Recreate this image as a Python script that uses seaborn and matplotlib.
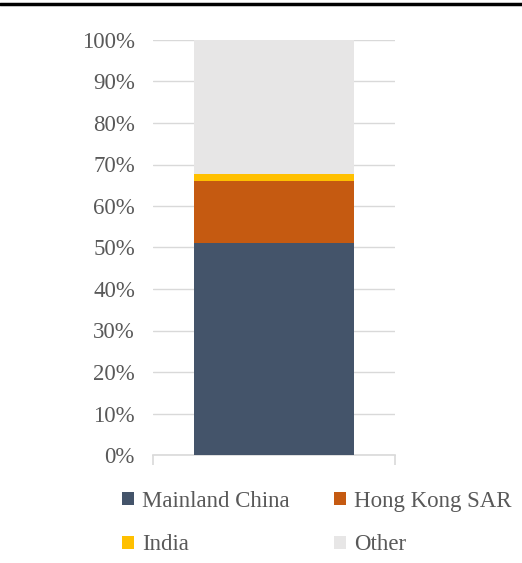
import numpy as np
import pandas as pd
import matplotlib

matplotlib.use('Agg')
import matplotlib.pyplot as plt
from matplotlib.patches import Patch
from matplotlib.lines import Line2D
import seaborn as sns

# 数据：各地区占比 (%)
regions = ['Mainland China', 'Hong Kong SAR', 'India', 'Other']
shares = [51.0, 15.0, 1.7, 32.3]
colors = ['#44546a', '#c55a11', '#ffc000', '#e7e6e6']
y_ticks = [0, 10, 20, 30, 40, 50, 60, 70, 80, 90, 100]
y_labels = [f'{t}%' for t in y_ticks]

sns.set_theme(style='white')
plt.rcParams['font.family'] = ['Liberation Serif', 'DejaVu Serif']

text_color = '#595959'
grid_color = '#d9d9d9'

fig = plt.figure(figsize=(5.22, 5.63), dpi=100)
ax = fig.add_axes([153 / 522, 1 - 455 / 563, 242 / 522, 415 / 563])

# 堆叠：从最高的累计值往下画，互相覆盖
tops = np.cumsum(shares)
for name, top, col in reversed(list(zip(regions, tops, colors))):
    df = pd.DataFrame({'x': [0], 'y': [top]})
    sns.barplot(data=df, x='x', y='y', color=col, width=0.665,
                saturation=1, ax=ax, zorder=3, linewidth=0)

ax.set_xlim(-0.5, 0.5)
ax.set_ylim(0, 100)
ax.set_yticks(y_ticks)
ax.set_yticklabels(y_labels)
ax.set_xticks([-0.5, 0.5])
ax.set_xticklabels(['', ''])
ax.set_xlabel('')
ax.set_ylabel('')

ax.yaxis.grid(True, color=grid_color, linewidth=1, zorder=0)
ax.xaxis.grid(False)
for s in ['top', 'right', 'left']:
    ax.spines[s].set_visible(False)
ax.spines['bottom'].set_color(grid_color)
ax.spines['bottom'].set_linewidth(1.2)
ax.tick_params(axis='y', length=0, pad=13, labelsize=16.5, labelcolor=text_color)
ax.tick_params(axis='x', length=7, width=1.2, color=grid_color, direction='out', bottom=True)

# 图例：两列，逐行排列
handles = [Patch(facecolor=c, edgecolor='none') for c in colors]
order = [0, 2, 1, 3]
fig.legend([handles[i] for i in order], [regions[i] for i in order],
           ncol=2, loc='center', bbox_to_anchor=(0.607, 0.071), frameon=False,
           fontsize=16.5, labelcolor=text_color, handlelength=0.5, handleheight=0.5,
           handletextpad=0.35, columnspacing=1.95, labelspacing=1.0)

# 顶部黑线
fig.add_artist(Line2D([0, 1], [1 - 4 / 563, 1 - 4 / 563], color='black', linewidth=2.5,
                      transform=fig.transFigure))

fig.savefig('out.png', dpi=100)
plt.close(fig)
